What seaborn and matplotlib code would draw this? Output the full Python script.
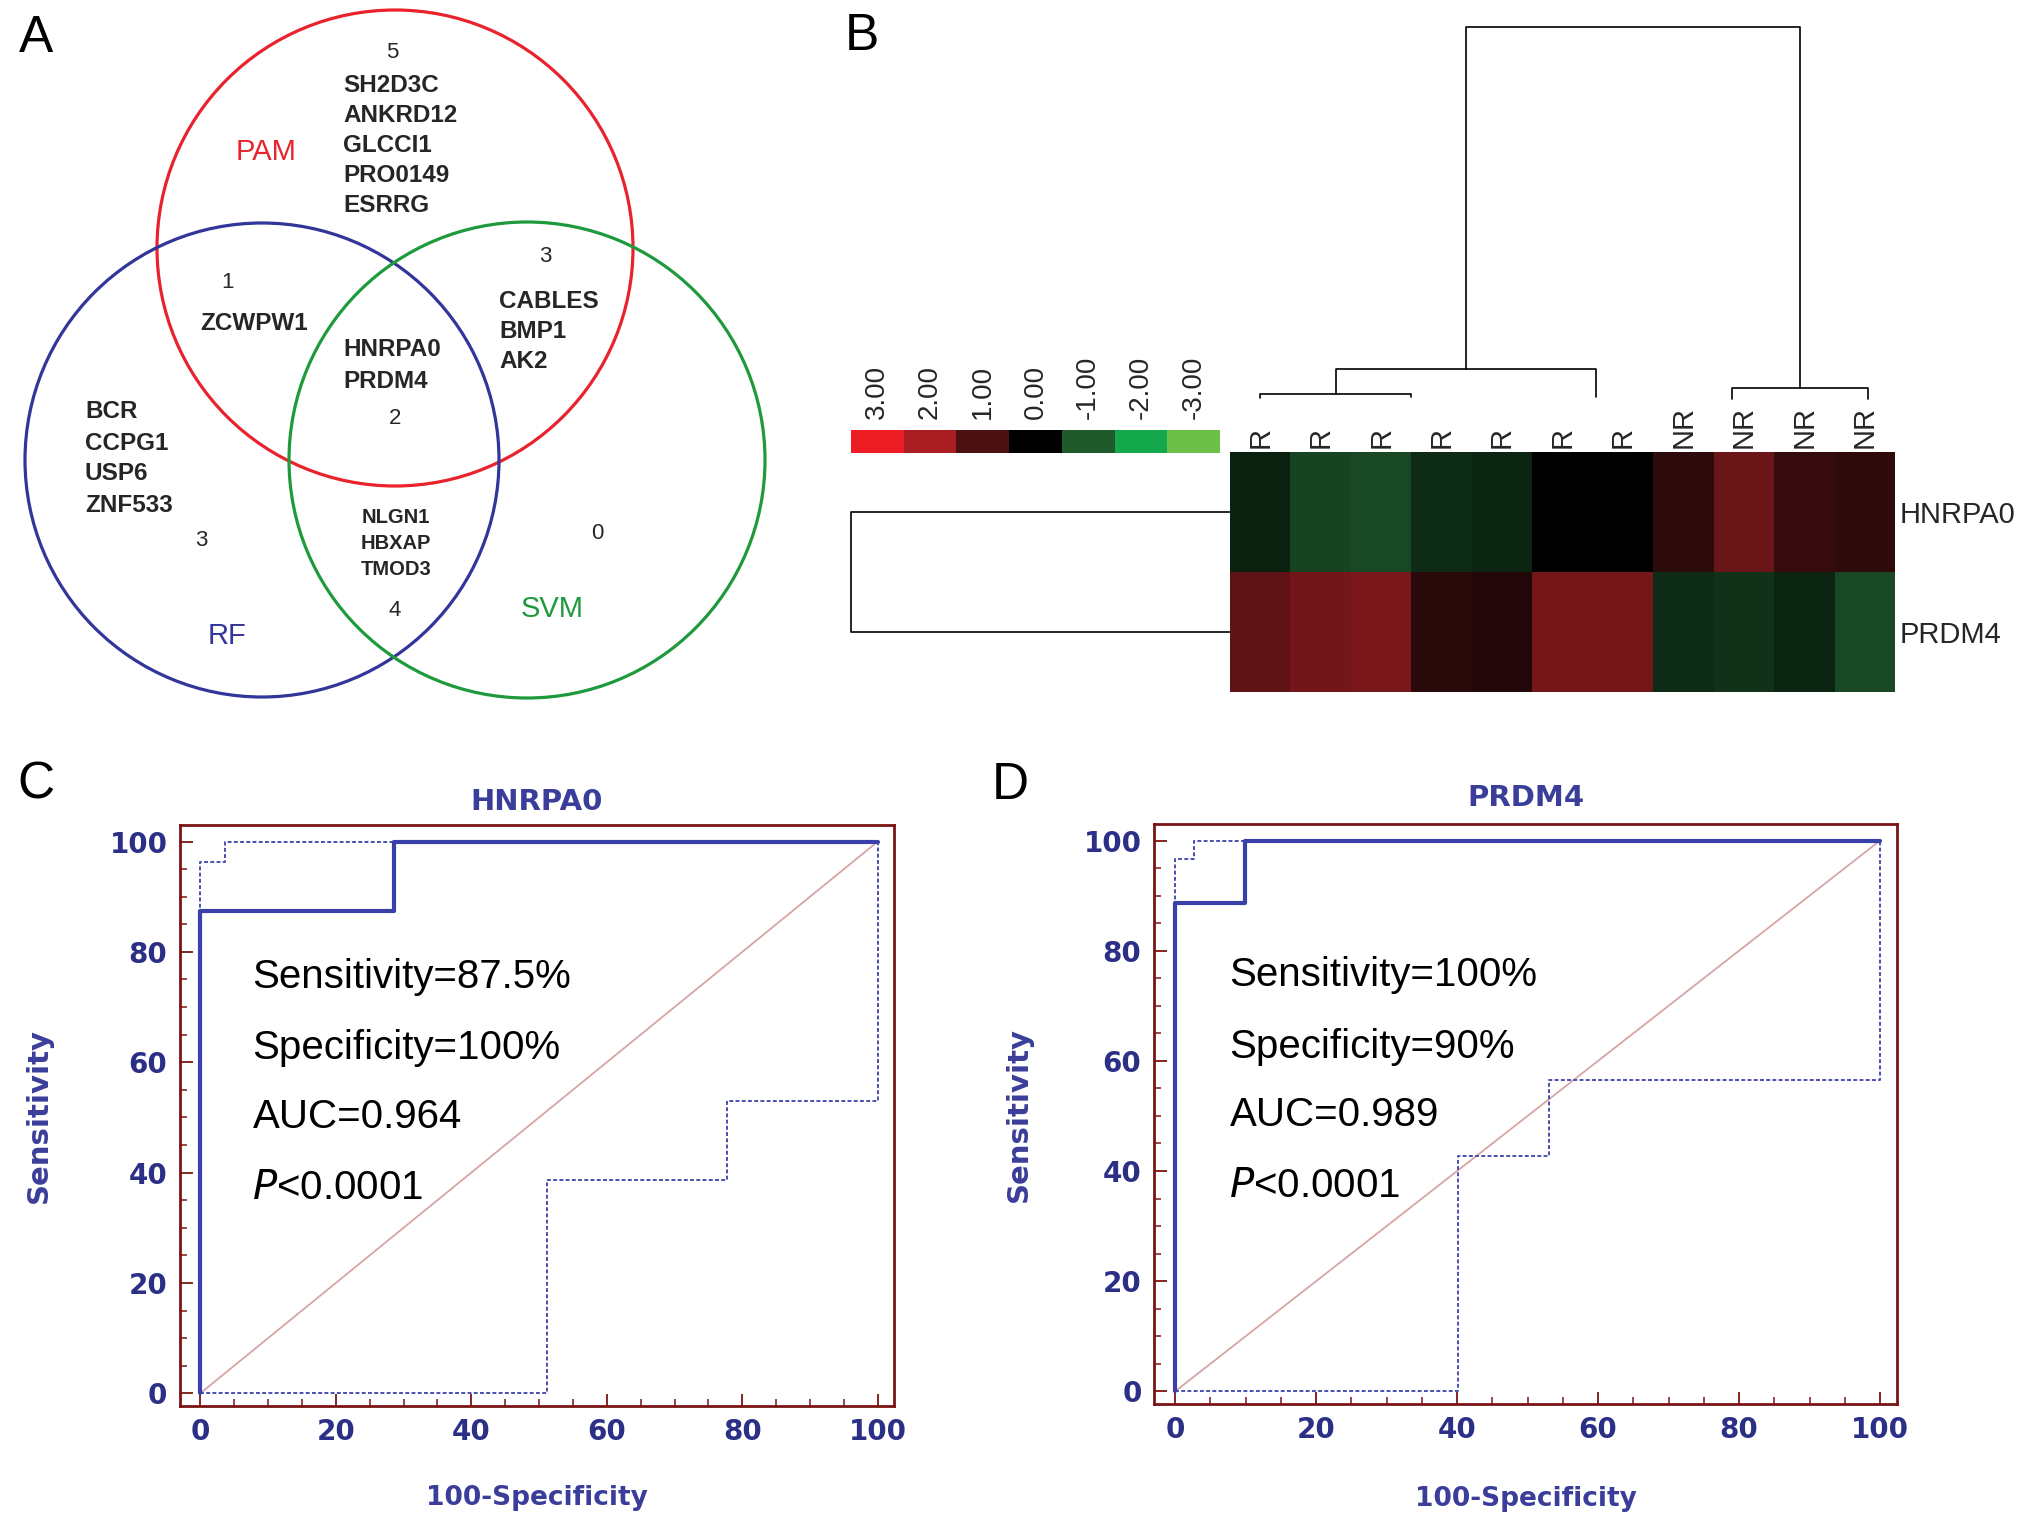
import numpy as np
import pandas as pd
import matplotlib
matplotlib.use("Agg")
import matplotlib.pyplot as plt
from matplotlib.patches import Circle
from matplotlib.colors import LinearSegmentedColormap
import seaborn as sns

sns.set_theme(style="white")
plt.rcParams['font.family'] = ['Liberation Sans', 'DejaVu Sans']

# ---------------- data ----------------
# Venn (panel A)
venn_sets = ["PAM", "RF", "SVM"]
pam_only = ["SH2D3C", "ANKRD12", "GLCCI1", "PRO0149", "ESRRG"]
pam_rf = ["ZCWPW1"]
pam_svm = ["CABLES", "BMP1", "AK2"]
all_three = ["HNRPA0", "PRDM4"]
rf_only = ["BCR", "CCPG1", "USP6", "ZNF533"]
rf_svm = ["NLGN1", "HBXAP", "TMOD3"]
region_names = ["pam_only", "pam_rf", "pam_svm", "all", "rf_only", "rf_svm", "svm_only"]
region_counts = [5, 1, 3, 2, 3, 4, 0]

# Heatmap (panel B)
samples = ["R", "R", "R", "R", "R", "R", "R", "NR", "NR", "NR", "NR"]
genes = ["HNRPA0", "PRDM4"]
hnrpa0_expr = [-0.36, -0.73, -0.82, -0.47, -0.42, 0.0, 0.0, 0.6, 1.33, 0.72, 0.61]
prdm4_expr = [1.2, 1.42, 1.48, 0.56, 0.45, 1.44, 1.44, -0.47, -0.56, -0.42, -0.8]
scale_values = [3.0, 2.0, 1.0, 0.0, -1.0, -2.0, -3.0]
scale_colors = ["#ee1c25", "#a81e22", "#4b1012", "#000000", "#1e5a2c", "#12a84c", "#6cc04a"]
# column dendrogram merges: left pos, right pos, height, left-leg bottom, right-leg bottom
dend_left = [0.5, 1.75, 8.3, 3.9]
dend_right = [3.0, 6.05, 10.55, 9.43]
dend_height = [6, 31, 12, 373]
dend_lbot = [2, 6, 1, 31]
dend_rbot = [3, 3, 1, 12]

# ROC (panels C, D)
roc_titles = ["HNRPA0", "PRDM4"]
hn_fpr = [0, 0, 28.6, 28.6, 100]
hn_tpr = [0, 87.5, 87.5, 100, 100]
hn_up_fpr = [0, 0, 3.7, 3.7, 100]
hn_up_tpr = [0, 96.3, 96.3, 100, 100]
hn_lo_fpr = [0, 51.2, 51.2, 77.7, 77.7, 100, 100]
hn_lo_tpr = [0, 0, 38.6, 38.6, 53.0, 53.0, 100]
pr_fpr = [0, 0, 9.9, 9.9, 100]
pr_tpr = [0, 88.7, 88.7, 100, 100]
pr_up_fpr = [0, 0, 2.7, 2.7, 100]
pr_up_tpr = [0, 96.7, 96.7, 100, 100]
pr_lo_fpr = [0, 40.1, 40.1, 53.0, 53.0, 100, 100]
pr_lo_tpr = [0, 0, 42.8, 42.8, 56.5, 56.5, 100]
hn_stats = ["Sensitivity=87.5%", "Specificity=100%", "AUC=0.964", "<0.0001"]
pr_stats = ["Sensitivity=100%", "Specificity=90%", "AUC=0.989", "<0.0001"]
ticks = [0, 20, 40, 60, 80, 100]

# ---------------- layout helpers ----------------
W, H = 2031, 1526
fig = plt.figure(figsize=(W / 100, H / 100), dpi=100)


def rect(x0, y0, x1, y1):
    return [x0 / W, 1 - y1 / H, (x1 - x0) / W, (y1 - y0) / H]


def ftext(x, y, s, **kw):
    fig.text(x / W, 1 - y / H, s, **kw)


# panel letters
for lab, (lx, ly) in zip("ABCD", [(36, 39), (862, 37), (36, 785), (1010, 785)]):
    ftext(lx, ly, lab, fontsize=37, ha="center", va="center", color="black")

# ---------------- Panel A: Venn ----------------
axv = fig.add_axes(rect(0, 0, 800, 720))
axv.set_xlim(0, 800)
axv.set_ylim(720, 0)
axv.axis("off")
circ_spec = [((395, 248), 238, "#e8232e"), ((262, 460), 237, "#32359a"), ((527, 460), 238, "#1e9a3c")]
for (c, r, col) in circ_spec:
    axv.add_patch(Circle(c, r, fill=False, lw=2.3, color=col))

set_label_pos = [(266, 152), (227, 636), (552, 609)]
for name, pos, (_, _, col) in zip(venn_sets, set_label_pos, circ_spec):
    axv.text(pos[0], pos[1], name, color=col, fontsize=21, ha="center", va="center")

count_pos = [(392, 52), (228, 283), (545, 257), (395, 418), (201, 541), (395, 611), (597, 534)]
for n, p in zip(region_counts, count_pos):
    axv.text(p[0], p[1], str(n), fontsize=16, ha="center", va="center")


def gene_block(lst, x, y0, dy, fs, ha="left"):
    for i, g in enumerate(lst):
        axv.text(x, y0 + i * dy, g, fontsize=fs, fontweight="bold", ha=ha, va="center")


gene_block(pam_only, 343, 86, 30, 17.5)
gene_block(pam_rf, 200, 324, 30, 17.5)
gene_block(pam_svm, 499, 301, 30, 17.5)
gene_block(all_three, 343, 350, 31, 17.5)
gene_block(rf_only, 85, 412, 31, 17.5)
gene_block(rf_svm, 396, 518, 26, 14.5, ha="center")

# ---------------- Panel B: heatmap ----------------
cmap = LinearSegmentedColormap.from_list(
    "rg", list(zip(np.linspace(0, 1, 7), scale_colors[::-1])))
expr = pd.DataFrame([hnrpa0_expr, prdm4_expr], index=genes)
axh = fig.add_axes(rect(1230, 452, 1895, 692))
sns.heatmap(expr, cmap=cmap, vmin=-3, vmax=3, cbar=False, ax=axh,
            xticklabels=samples, yticklabels=genes)
axh.xaxis.tick_top()
axh.yaxis.tick_right()
axh.tick_params(axis="both", length=0)
axh.tick_params(axis="x", pad=3)
axh.tick_params(axis="y", pad=3)
plt.setp(axh.get_xticklabels(), rotation=90, fontsize=21, va="bottom")
plt.setp(axh.get_yticklabels(), rotation=0, fontsize=21)

# colour scale
axc = fig.add_axes(rect(851, 430, 1220, 453))
scale_df = pd.DataFrame([scale_values])
sns.heatmap(scale_df, cmap=cmap, vmin=-3, vmax=3, cbar=False, ax=axc,
            xticklabels=[f"{v:.2f}" for v in scale_values], yticklabels=False)
axc.xaxis.tick_top()
axc.tick_params(axis="x", length=0, pad=8)
plt.setp(axc.get_xticklabels(), rotation=90, fontsize=20, va="bottom")

# column dendrogram
axd = fig.add_axes(rect(1230, 20, 1895, 400))
axd.set_xlim(0, len(samples))
axd.set_ylim(0, 380)
axd.axis("off")
for l, r, h, lb, rb in zip(dend_left, dend_right, dend_height, dend_lbot, dend_rbot):
    axd.plot([l, l, r, r], [lb, h, h, rb], color="black", lw=1.2)

# row dendrogram
axr = fig.add_axes(rect(845, 452, 1230, 692))
axr.set_ylim(len(genes), 0)
axr.set_xlim(386, 0)
axr.axis("off")
row_height = 380
axr.plot([0, row_height, row_height, 0], [0.5, 0.5, 1.5, 1.5], color="black", lw=1.2)

# ---------------- Panels C, D: ROC ----------------
frame_col = "#7a1414"
lab_col = "#2b2f86"
curve_col = "#3a40aa"
roc_font = ["DejaVu Sans"]


def roc_panel(r, title, fpr, tpr, ufpr, utpr, lfpr, ltpr, stats, ylab_x, xlab_y, title_y):
    ax = fig.add_axes(rect(*r))
    ax.plot([0, 100], [0, 100], color="#d8a4a4", lw=1.3, zorder=1)
    sns.lineplot(x=ufpr, y=utpr, sort=False, estimator=None, ax=ax,
                 color="#4a4fb0", lw=1.4, linestyle=(0, (2, 1.2)), zorder=2)
    sns.lineplot(x=lfpr, y=ltpr, sort=False, estimator=None, ax=ax,
                 color="#4a4fb0", lw=1.4, linestyle=(0, (2, 1.2)), zorder=2)
    sns.lineplot(x=fpr, y=tpr, sort=False, estimator=None, ax=ax,
                 color=curve_col, lw=3.0, zorder=3)
    ax.set_xlim(-3, 102.4)
    ax.set_ylim(-2.3, 103)
    ax.set_xticks(ticks)
    ax.set_yticks(ticks)
    ax.set_xticks(np.arange(0, 101, 5), minor=True)
    ax.set_yticks(np.arange(0, 101, 5), minor=True)
    ax.tick_params(axis="both", which="major", direction="in", length=9, width=1.3,
                   color=frame_col, labelsize=20, labelcolor=lab_col, pad=9)
    ax.tick_params(axis="both", which="minor", direction="in", length=5, width=1.1,
                   color=frame_col)
    ax.tick_params(axis="x", which="both", bottom=True)
    ax.tick_params(axis="y", which="both", left=True)
    for lbl in ax.get_xticklabels() + ax.get_yticklabels():
        lbl.set_fontweight("bold")
        lbl.set_family(roc_font)
    for s in ax.spines.values():
        s.set_color(frame_col)
        s.set_linewidth(2.0)
    ax.text(0.5, title_y, title, transform=ax.transAxes, color="#3a3e9a", fontsize=21,
            fontweight="bold", family=roc_font, ha="center", va="center")
    ax.set_xlabel("100-Specificity", color="#3a3e9a", fontsize=19, fontweight="bold",
                  family=roc_font)
    ax.set_ylabel("Sensitivity", color="#3a3e9a", fontsize=21, fontweight="bold",
                  family=roc_font)
    ax.xaxis.set_label_coords(0.5, xlab_y)
    ax.yaxis.set_label_coords(ylab_x, 0.5)
    ax.xaxis.label.set_va("center")
    ax.yaxis.label.set_va("center")
    ys = [75.5, 62.6, 50.1, 37.2]
    for i, s in enumerate(stats):
        txt = s if i < 3 else r"$\it{P}$" + s
        ax.text(7.7, ys[i], txt, fontsize=29, ha="left", va="center", color="black")
    return ax


roc_panel((180, 825, 894, 1406), roc_titles[0], hn_fpr, hn_tpr, hn_up_fpr, hn_up_tpr,
          hn_lo_fpr, hn_lo_tpr, hn_stats, -0.197, -0.158, 1.04)
roc_panel((1154, 824, 1897, 1404), roc_titles[1], pr_fpr, pr_tpr, pr_up_fpr, pr_up_tpr,
          pr_lo_fpr, pr_lo_tpr, pr_stats, -0.182, -0.163, 1.044)

fig.savefig("out.png", dpi=100)
